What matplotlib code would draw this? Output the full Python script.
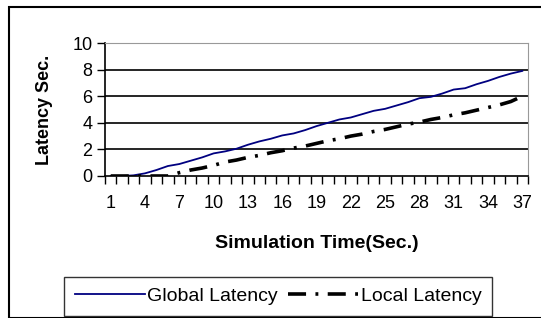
import matplotlib
matplotlib.use("Agg")
import matplotlib.pyplot as plt
from matplotlib.patches import Rectangle

time_sec = list(range(1, 38))
global_latency = [0, 0, 0.05, 0.2, 0.45, 0.75, 0.9, 1.15, 1.4, 1.7, 1.85, 2.05, 2.35,
                  2.6, 2.8, 3.05, 3.2, 3.45, 3.75, 4.0, 4.25, 4.4, 4.65, 4.9, 5.05,
                  5.3, 5.55, 5.85, 5.95, 6.2, 6.5, 6.6, 6.9, 7.15, 7.45, 7.7, 7.9]
local_latency = [0, 0, 0, 0, 0, 0, 0.25, 0.45, 0.6, 0.8, 1.05, 1.2, 1.4, 1.55, 1.75,
                 1.9, 2.1, 2.25, 2.45, 2.65, 2.8, 3.0, 3.15, 3.35, 3.5, 3.7, 3.9,
                 4.05, 4.25, 4.4, 4.6, 4.75, 4.95, 5.15, 5.35, 5.6, 6.0]
x_tick_labels = [str(v) for v in range(1, 38, 3)]
y_ticks = [0, 2, 4, 6, 8, 10]

plt.rcParams['font.family'] = ['Liberation Sans', 'DejaVu Sans']
W, H = 541, 318
fig = plt.figure(figsize=(W / 100, H / 100), dpi=100)

# outer chart border
fig.patches.append(Rectangle((9 / W, 0), 1.0, 1 - 7 / H, transform=fig.transFigure,
                             fill=False, edgecolor='black', linewidth=1.5))

ax = fig.add_axes([105 / W, 1 - 176 / H, (528 - 105) / W, (176 - 43) / H])
ax.plot(time_sec, global_latency, color='#000080', linewidth=1.3, label='Global Latency')
ax.plot(time_sec, local_latency, color='black', linewidth=2.6,
        dashes=(5, 2.6, 0.8, 2.6), label='Local Latency')

ax.set_xlim(0.5, 37.5)
ax.set_ylim(0, 10)
ax.set_yticks(y_ticks)
ax.tick_params(axis='y', direction='out', length=6, width=1, labelsize=13, pad=3)
ax.set_xticks([int(s) for s in x_tick_labels])
ax.set_xticklabels(x_tick_labels)
ax.tick_params(axis='x', which='major', length=0, labelsize=13, pad=14)
ax.set_xticks([i + 0.5 for i in range(0, 38)], minor=True)
ax.tick_params(axis='x', which='minor', direction='out', length=6, width=1)
for y in [2, 4, 6, 8]:
    ax.axhline(y, color='black', linewidth=1.2, zorder=0.5)
ax.spines['top'].set_color('#999999')
ax.spines['right'].set_color('#999999')
ax.spines['left'].set_linewidth(1.2)
ax.spines['bottom'].set_linewidth(1.2)

ax.set_ylabel('Latency Sec.', fontsize=13, fontweight='bold', labelpad=14)
ax.set_xlabel('Simulation Time(Sec.)', fontsize=14, fontweight='bold', labelpad=16)

leg = fig.legend(loc='center', bbox_to_anchor=(278 / W, 1 - 296 / H), ncol=2,
                 fontsize=14, frameon=True, fancybox=False, edgecolor='black',
                 handlelength=3.6, handletextpad=0.15, columnspacing=0.5,
                 borderpad=0.55, borderaxespad=0)
leg.get_frame().set_linewidth(1.0)

fig.savefig('out.png', dpi=100)
